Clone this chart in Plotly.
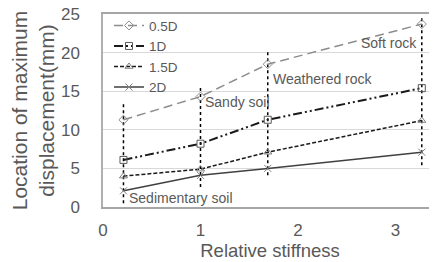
import plotly.graph_objects as go

# Data
stiffness = [0.21, 1.0, 1.69, 3.27]
series_names = ["0.5D", "1D", "1.5D", "2D"]
loc_05D = [11.3, 14.3, 18.5, 23.7]
loc_1D = [6.1, 8.2, 11.3, 15.4]
loc_15D = [4.0, 4.9, 7.1, 11.2]
loc_2D = [2.1, 4.1, 5.0, 7.1]

# vertical range markers (soil types)
range_x = [0.21, 1.0, 1.69, 3.27]
range_low = [0.5, 2.6, 4.1, 5.4]
range_high = [13.6, 15.7, 20.2, 24.7]

soil_labels = ["Sedimentary soil", "Sandy soil", "Weathered rock", "Soft rock"]
label_x = [0.25, 1.025, 1.72, 3.24]
label_y = [1.2, 13.6, 16.6, 21.2]
label_anchor = ["left", "left", "left", "right"]

x_ticks = [0, 1, 2, 3]
y_ticks = [0, 5, 10, 15, 20, 25]

grey = "#595959"
fig = go.Figure()

styles = [
    dict(color="#8c8c8c", width=1.5, dash="9px,5px", sym="diamond-open", mcol="#8c8c8c", ms=7),
    dict(color="#1a1a1a", width=2, dash="9px,3px,2px,3px,2px,3px", sym="square-open", mcol="#595959", ms=7),
    dict(color="#1a1a1a", width=1.5, dash="4px,2px", sym="triangle-up-open", mcol="#7f7f7f", ms=7),
    dict(color="#404040", width=1.5, dash="solid", sym="x-thin-open", mcol="#7f7f7f", ms=7),
]
all_y = [loc_05D, loc_1D, loc_15D, loc_2D]

# vertical dotted lines
for xv, lo, hi in zip(range_x, range_low, range_high):
    fig.add_trace(go.Scatter(x=[xv, xv], y=[lo, hi], mode="lines",
                             line=dict(color="#000000", width=1.5, dash="dot"),
                             showlegend=False, hoverinfo="skip"))

for name, ys, st in zip(series_names, all_y, styles):
    fig.add_trace(go.Scatter(
        x=stiffness, y=ys, name=name, mode="lines+markers",
        line=dict(color=st["color"], width=st["width"], dash=st["dash"]),
        marker=dict(symbol=st["sym"], size=st["ms"], color=st["mcol"],
                    line=dict(color=st["mcol"], width=1)),
    ))

for t, lx, ly, an in zip(soil_labels, label_x, label_y, label_anchor):
    fig.add_annotation(x=lx, y=ly, xref="x", yref="y", text=t, showarrow=False,
                       xanchor=an, yanchor="middle",
                       font=dict(family="Liberation Sans, Arial", size=14, color=grey))

fig.update_layout(
    width=437, height=262,
    margin=dict(l=95, r=8, t=6, b=63, autoexpand=False),
    paper_bgcolor="white", plot_bgcolor="white",
    font=dict(family="Liberation Sans, Arial", color=grey),
    legend=dict(x=0.018, y=1.02, xanchor="left", yanchor="top",
                bgcolor="rgba(0,0,0,0)", font=dict(size=13.5, color=grey),
                tracegroupgap=0),
)
fig.update_xaxes(range=[0, 3.426], tickvals=x_ticks, ticks="", showgrid=False,
                 showline=True, linecolor="#a6a6a6", linewidth=1.5, mirror=True,
                 zeroline=False, tickfont=dict(size=17, color=grey),
                 ticklabelstandoff=7, automargin=False, ticklabeloverflow="allow",
                 title=dict(text="Relative stiffness", font=dict(size=18.5, color=grey), standoff=0))
fig.update_yaxes(range=[0, 25], tickvals=y_ticks, ticks="", showgrid=True,
                 gridcolor="#d9d9d9", gridwidth=1,
                 showline=True, linecolor="#b0b0b0", linewidth=1.5, mirror=False,
                 zeroline=False, tickfont=dict(size=17, color=grey),
                 ticklabelstandoff=18, automargin=False, ticklabeloverflow="allow",
                 title=dict(text="Location of maximum<br>displacement(mm)",
                            font=dict(size=21, color=grey), standoff=1))

fig.write_html("out.html")
